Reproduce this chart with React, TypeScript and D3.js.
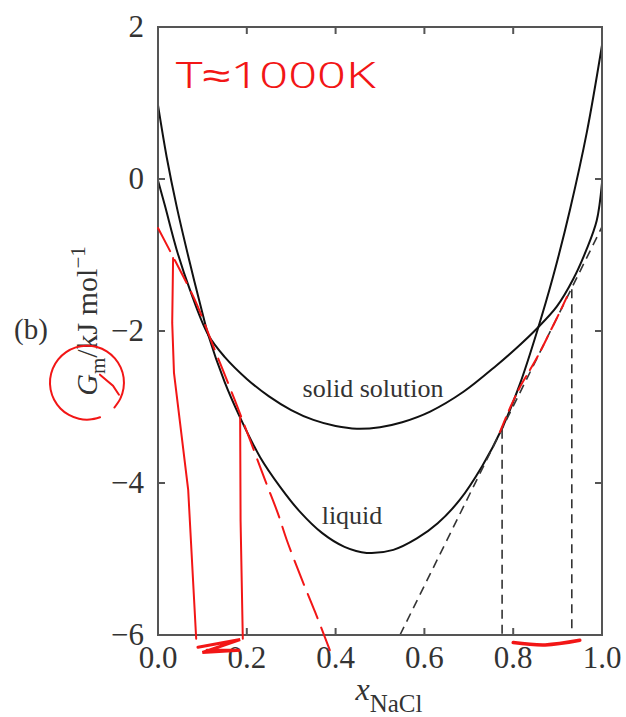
import { useEffect, useRef } from 'react';
import * as d3 from 'd3';

// Axis ticks
const xTicks = [0, 0.2, 0.4, 0.6, 0.8, 1.0];
const yTicks = [2, 0, -2, -4, -6];
const xTickLabels = ['0.0', '0.2', '0.4', '0.6', '0.8', '1.0'];
const yTickLabels = ['2', '0', '\u22122', '\u22124', '\u22126'];

// Liquid curve, G_m (kJ/mol) vs x_NaCl
const liquidX = [0, 0.0195, 0.042, 0.072, 0.102, 0.113, 0.15, 0.185, 0.23, 0.275, 0.32, 0.37, 0.42, 0.47, 0.53, 0.583, 0.63, 0.68, 0.73, 0.775, 0.815, 0.853, 0.89, 0.928, 0.966, 1.0];
const liquidG = [0.97, 0.29, -0.36, -1.11, -1.81, -2.05, -2.67, -3.14, -3.66, -4.05, -4.38, -4.66, -4.84, -4.92, -4.88, -4.73, -4.53, -4.22, -3.78, -3.28, -2.7, -2.02, -1.28, -0.4, 0.62, 1.76];

// Solid solution curve
const solidX = [0, 0.016, 0.042, 0.072, 0.113, 0.15, 0.2, 0.25, 0.3, 0.35, 0.4, 0.448, 0.5, 0.55, 0.613, 0.688, 0.763, 0.81, 0.853, 0.898, 0.935, 0.965, 0.988, 1.0];
const solidG = [-0.02, -0.36, -0.93, -1.46, -2.05, -2.34, -2.63, -2.86, -3.04, -3.17, -3.25, -3.285, -3.265, -3.2, -3.06, -2.8, -2.45, -2.21, -1.97, -1.68, -1.32, -0.93, -0.55, -0.05];

// Common tangent and tie lines
const tangentX = [0.545, 1.0];
const tangentG = [-6, -0.63];
const tieX = [0.775, 0.932];
const tieTopG = [-3.3, -1.45];

// Hand-drawn red annotations (data coordinates)
const redDashX = [0, 0.038, 0.083, 0.128, 0.173, 0.207, 0.241, 0.27, 0.29, 0.32, 0.354, 0.387];
const redDashG = [-0.645, -1.07, -1.59, -2.25, -2.91, -3.43, -3.96, -4.4, -4.75, -5.21, -5.7, -6.2];
const redLine1X = [0.034, 0.032, 0.036, 0.068, 0.086];
const redLine1G = [-1.04, -1.89, -2.55, -4.09, -6.05];
const redLine2X = [0.185, 0.186, 0.191];
const redLine2G = [-3.13, -4.5, -6.05];
const redRightX = [0.77, 0.793, 0.815, 0.838, 0.86, 0.883, 0.905, 0.921];
const redRightG = [-3.33, -3.01, -2.74, -2.51, -2.28, -2.01, -1.75, -1.55];
const redScribbleRX = [0.8, 0.872, 0.95];
const redScribbleRG = [-6.1, -6.13, -6.07];
const redScribbleLX = [0.09, 0.185, 0.1, 0.185, 0.11];
const redScribbleLG = [-6.16, -6.06, -6.23, -6.2, -6.2];

const zip = (xs: number[], gs: number[]) => xs.map((x, i) => [x, gs[i]] as [number, number]);

const Chart = () => {
    const svgRef = useRef<SVGSVGElement>(null);

    useEffect(() => {
        if (!svgRef.current) return;
        const svg = d3.select(svgRef.current);
        svg.selectAll('*').remove();

        const left = 158, right = 602, top = 27, bottom = 635;
        const xScale = d3.scaleLinear().domain([0, 1]).range([left, right]);
        const yScale = d3.scaleLinear().domain([-6, 2]).range([bottom, top]);

        const serif = '"Liberation Serif", "Times New Roman", serif';
        const axisColor = '#555';
        const textColor = '#333';
        const red = '#f21616';

        const line = d3.line<[number, number]>()
            .x(d => xScale(d[0]))
            .y(d => yScale(d[1]));
        const smooth = d3.line<[number, number]>()
            .x(d => xScale(d[0]))
            .y(d => yScale(d[1]))
            .curve(d3.curveCatmullRom.alpha(0.5));
        const hand = d3.line<[number, number]>()
            .x(d => xScale(d[0]))
            .y(d => yScale(d[1]))
            .curve(d3.curveCatmullRom);

        // Clip for the plot area
        svg.append('clipPath').attr('id', 'plot-clip')
            .append('rect')
            .attr('x', left).attr('y', top)
            .attr('width', right - left).attr('height', bottom - top);

        // Curves
        const curves = svg.append('g').attr('clip-path', 'url(#plot-clip)');
        curves.append('path')
            .attr('d', smooth(zip(liquidX, liquidG)))
            .attr('fill', 'none').attr('stroke', '#111').attr('stroke-width', 2);
        curves.append('path')
            .attr('d', smooth(zip(solidX, solidG)))
            .attr('fill', 'none').attr('stroke', '#111').attr('stroke-width', 2);

        // Common tangent
        curves.append('path')
            .attr('d', line(zip(tangentX, tangentG)))
            .attr('fill', 'none').attr('stroke', '#333').attr('stroke-width', 1.6)
            .attr('stroke-dasharray', '9,6');

        // Tie lines
        curves.selectAll('.tie')
            .data(tieX)
            .enter()
            .append('line')
            .attr('class', 'tie')
            .attr('x1', d => xScale(d)).attr('x2', d => xScale(d))
            .attr('y1', (d, i) => yScale(tieTopG[i]))
            .attr('y2', yScale(-6))
            .attr('stroke', '#333').attr('stroke-width', 1.6)
            .attr('stroke-dasharray', '9,6');

        // Frame
        svg.append('rect')
            .attr('x', left).attr('y', top)
            .attr('width', right - left).attr('height', bottom - top)
            .attr('fill', 'none').attr('stroke', axisColor).attr('stroke-width', 2);

        // Inward ticks on all sides
        const tickLen = 7;
        const innerX = xTicks.filter(t => t > 0 && t < 1);
        const innerY = yTicks.filter(t => t > -6 && t < 2);
        svg.selectAll('.xtick-b').data(innerX).enter().append('line')
            .attr('x1', d => xScale(d)).attr('x2', d => xScale(d))
            .attr('y1', bottom).attr('y2', bottom - tickLen)
            .attr('stroke', axisColor).attr('stroke-width', 2);
        svg.selectAll('.xtick-t').data(innerX).enter().append('line')
            .attr('x1', d => xScale(d)).attr('x2', d => xScale(d))
            .attr('y1', top).attr('y2', top + tickLen)
            .attr('stroke', axisColor).attr('stroke-width', 2);
        svg.selectAll('.ytick-l').data(innerY).enter().append('line')
            .attr('x1', left).attr('x2', left + tickLen)
            .attr('y1', d => yScale(d)).attr('y2', d => yScale(d))
            .attr('stroke', axisColor).attr('stroke-width', 2);
        svg.selectAll('.ytick-r').data(innerY).enter().append('line')
            .attr('x1', right).attr('x2', right - tickLen)
            .attr('y1', d => yScale(d)).attr('y2', d => yScale(d))
            .attr('stroke', axisColor).attr('stroke-width', 2);

        // Tick labels
        svg.selectAll('.xlabel').data(xTicks).enter().append('text')
            .attr('x', d => xScale(d))
            .attr('y', 668)
            .attr('text-anchor', 'middle')
            .attr('font-family', serif).attr('font-size', 31)
            .attr('fill', textColor)
            .text((d, i) => xTickLabels[i]);
        svg.selectAll('.ylabel').data(yTicks).enter().append('text')
            .attr('x', 144)
            .attr('y', d => yScale(d) + 10)
            .attr('text-anchor', 'end')
            .attr('font-family', serif).attr('font-size', 31)
            .attr('fill', textColor)
            .text((d, i) => yTickLabels[i]);

        // Curve labels
        svg.append('text')
            .attr('x', 373).attr('y', 397)
            .attr('text-anchor', 'middle')
            .attr('font-family', serif).attr('font-size', 26)
            .attr('fill', textColor)
            .text('solid solution');
        svg.append('text')
            .attr('x', 352).attr('y', 524)
            .attr('text-anchor', 'middle')
            .attr('font-family', serif).attr('font-size', 26)
            .attr('fill', textColor)
            .text('liquid');

        // x axis title
        const xt = svg.append('text')
            .attr('x', 389).attr('y', 700)
            .attr('text-anchor', 'middle')
            .attr('font-family', serif).attr('font-size', 32)
            .attr('fill', textColor);
        xt.append('tspan').attr('font-style', 'italic').text('x');
        xt.append('tspan').attr('font-size', 25).attr('dy', 12).text('NaCl');

        // y axis title
        const yt = svg.append('text')
            .attr('transform', 'translate(97,321) rotate(-90)')
            .attr('text-anchor', 'middle')
            .attr('font-family', serif).attr('font-size', 30)
            .attr('fill', textColor);
        yt.append('tspan').attr('font-style', 'italic').text('G');
        yt.append('tspan').attr('font-size', 21).attr('dy', 8).text('m');
        yt.append('tspan').attr('dy', -8).text('/kJ mol');
        yt.append('tspan').attr('font-size', 21).attr('dy', -12).text('\u22121');

        // Panel tag
        svg.append('text')
            .attr('x', 14).attr('y', 339)
            .attr('font-family', serif).attr('font-size', 29)
            .attr('fill', textColor)
            .text('(b)');

        // Red hand annotations
        const ann = svg.append('g')
            .attr('fill', 'none').attr('stroke', red)
            .attr('stroke-width', 2).attr('stroke-linecap', 'round');
        ann.append('path')
            .attr('d', hand(zip(redDashX, redDashG)))
            .attr('stroke-dasharray', '26,10');
        ann.append('path').attr('d', line(zip(redLine1X, redLine1G)));
        ann.append('path').attr('d', line(zip(redLine2X, redLine2G)));
        ann.append('path')
            .attr('d', hand(zip(redRightX, redRightG)))
            .attr('stroke-dasharray', '16,7');
        ann.append('path').attr('d', hand(zip(redScribbleRX, redScribbleRG)))
            .attr('stroke-width', 3.5);
        ann.append('path').attr('d', line(zip(redScribbleLX, redScribbleLG)))
            .attr('stroke-width', 3);

        // Circle around G_m
        const cx = xScale(-0.16), cy = yScale(-2.68);
        const circlePts: [number, number][] = d3.range(0, 21).map(i => {
            const a = -Math.PI / 2.6 - (i / 20) * Math.PI * 1.85;
            return [cx + 37 * Math.cos(a), cy - 37 * Math.sin(a)];
        });
        ann.append('path')
            .attr('d', d3.line().curve(d3.curveCatmullRom)(circlePts));
        ann.append('path')
            .attr('d', d3.line()([[cx + 13, cy - 8], [cx + 26, cy + 3], [cx + 32, cy + 12]]));

        // T ≈ 1000K
        svg.append('text')
            .attr('x', xScale(0.04)).attr('y', yScale(1.2))
            .attr('font-family', '"Noto Sans", sans-serif')
            .attr('font-weight', 300)
            .attr('font-size', 36)
            .attr('textLength', 200)
            .attr('lengthAdjust', 'spacingAndGlyphs')
            .attr('fill', red)
            .text('T\u22481000K');
    }, []);

    return (
        <svg ref={svgRef} width={626} height={717}
            style={{ position: 'absolute', left: 0, top: 0, background: '#fff' }} />
    );
};

export default function App() {
    return <Chart />;
}
